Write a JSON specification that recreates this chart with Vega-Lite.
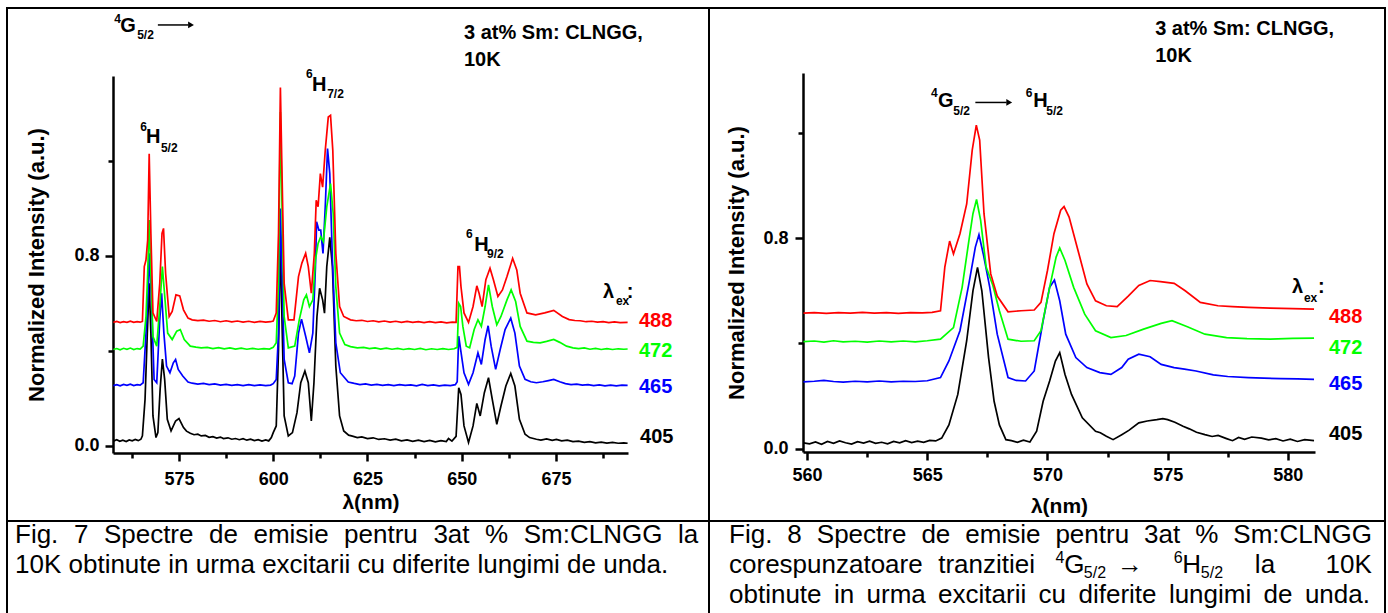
{
  "$schema": "https://vega.github.io/schema/vega-lite/v6.json",
  "padding": {"left": 6, "top": 7, "right": 0, "bottom": 0},
  "background": "white",
  "config": {
    "view": {"stroke": "#000000", "strokeWidth": 2},
    "concat": {"spacing": 0},
    "axis": {
      "grid": false,
      "domainColor": "#000000",
      "domainWidth": 2.5,
      "tickColor": "#000000",
      "tickWidth": 2.5,
      "labelColor": "#000000",
      "labelFont": "Liberation Sans",
      "labelFontSize": 18,
      "labelFontWeight": "bold",
      "labelFlush": false,
      "labelOverlap": false,
      "titleFont": "Liberation Sans",
      "titleFontSize": 21,
      "titleFontWeight": "bold",
      "titleColor": "#000000"
    },
    "text": {"font": "Liberation Sans"}
  },
  "datasets": {
    "s7": [
      {"ex":"405","nm":557.6,"I":0.020},{"ex":"405","nm":558.5,"I":0.026},{"ex":"405","nm":559.3,"I":0.019},{"ex":"405","nm":560.1,"I":0.024},{"ex":"405","nm":561.0,"I":0.018},{"ex":"405","nm":561.8,"I":0.025},{"ex":"405","nm":562.6,"I":0.021},{"ex":"405","nm":563.4,"I":0.027},{"ex":"405","nm":564.2,"I":0.022},{"ex":"405","nm":564.9,"I":0.028},{"ex":"405","nm":565.3,"I":0.042},{"ex":"405","nm":566.0,"I":0.196},{"ex":"405","nm":566.6,"I":0.475},{"ex":"405","nm":567.1,"I":0.685},{"ex":"405","nm":567.55,"I":0.475},{"ex":"405","nm":568.1,"I":0.126},{"ex":"405","nm":568.9,"I":0.035},{"ex":"405","nm":569.4,"I":0.056},{"ex":"405","nm":570.0,"I":0.238},{"ex":"405","nm":570.6,"I":0.366},{"ex":"405","nm":571.2,"I":0.28},{"ex":"405","nm":571.9,"I":0.112},{"ex":"405","nm":572.9,"I":0.063},{"ex":"405","nm":574.1,"I":0.105},{"ex":"405","nm":575.0,"I":0.115},{"ex":"405","nm":576.2,"I":0.077},{"ex":"405","nm":577.0,"I":0.062},{"ex":"405","nm":578.0,"I":0.053},{"ex":"405","nm":579.0,"I":0.047},{"ex":"405","nm":580.0,"I":0.049},{"ex":"405","nm":580.9,"I":0.042},{"ex":"405","nm":582.0,"I":0.044},{"ex":"405","nm":583.0,"I":0.036},{"ex":"405","nm":584.0,"I":0.039},{"ex":"405","nm":585.0,"I":0.033},{"ex":"405","nm":586.0,"I":0.037},{"ex":"405","nm":586.8,"I":0.031},{"ex":"405","nm":588.0,"I":0.034},{"ex":"405","nm":589.0,"I":0.028},{"ex":"405","nm":590.0,"I":0.031},{"ex":"405","nm":591.0,"I":0.026},{"ex":"405","nm":592.0,"I":0.030},{"ex":"405","nm":593.0,"I":0.024},{"ex":"405","nm":594.0,"I":0.028},{"ex":"405","nm":595.0,"I":0.022},{"ex":"405","nm":596.0,"I":0.026},{"ex":"405","nm":597.0,"I":0.020},{"ex":"405","nm":598.0,"I":0.025},{"ex":"405","nm":598.8,"I":0.021},{"ex":"405","nm":599.5,"I":0.035},{"ex":"405","nm":600.0,"I":0.056},{"ex":"405","nm":600.8,"I":0.084},{"ex":"405","nm":601.4,"I":0.406},{"ex":"405","nm":601.9,"I":0.88},{"ex":"405","nm":602.3,"I":0.545},{"ex":"405","nm":602.9,"I":0.126},{"ex":"405","nm":604.0,"I":0.042},{"ex":"405","nm":605.1,"I":0.056},{"ex":"405","nm":606.3,"I":0.14},{"ex":"405","nm":607.3,"I":0.266},{"ex":"405","nm":608.4,"I":0.315},{"ex":"405","nm":609.3,"I":0.266},{"ex":"405","nm":610.1,"I":0.105},{"ex":"405","nm":610.8,"I":0.266},{"ex":"405","nm":611.6,"I":0.545},{"ex":"405","nm":612.3,"I":0.664},{"ex":"405","nm":613.1,"I":0.615},{"ex":"405","nm":613.6,"I":0.559},{"ex":"405","nm":614.2,"I":0.755},{"ex":"405","nm":615.0,"I":0.878},{"ex":"405","nm":615.7,"I":0.755},{"ex":"405","nm":616.6,"I":0.336},{"ex":"405","nm":617.6,"I":0.126},{"ex":"405","nm":618.7,"I":0.063},{"ex":"405","nm":620.0,"I":0.045},{"ex":"405","nm":621.0,"I":0.041},{"ex":"405","nm":622.3,"I":0.035},{"ex":"405","nm":623.5,"I":0.038},{"ex":"405","nm":625.0,"I":0.031},{"ex":"405","nm":626.5,"I":0.034},{"ex":"405","nm":628.0,"I":0.027},{"ex":"405","nm":629.5,"I":0.030},{"ex":"405","nm":631.0,"I":0.024},{"ex":"405","nm":632.5,"I":0.028},{"ex":"405","nm":634.0,"I":0.021},{"ex":"405","nm":635.5,"I":0.025},{"ex":"405","nm":637.0,"I":0.019},{"ex":"405","nm":638.5,"I":0.024},{"ex":"405","nm":640.0,"I":0.018},{"ex":"405","nm":641.5,"I":0.023},{"ex":"405","nm":643.0,"I":0.017},{"ex":"405","nm":644.5,"I":0.022},{"ex":"405","nm":645.9,"I":0.018},{"ex":"405","nm":646.5,"I":0.031},{"ex":"405","nm":647.4,"I":0.020},{"ex":"405","nm":648.5,"I":0.04},{"ex":"405","nm":649.2,"I":0.245},{"ex":"405","nm":649.8,"I":0.217},{"ex":"405","nm":650.6,"I":0.084},{"ex":"405","nm":651.8,"I":0.014},{"ex":"405","nm":653.0,"I":0.084},{"ex":"405","nm":654.0,"I":0.179},{"ex":"405","nm":654.9,"I":0.126},{"ex":"405","nm":656.0,"I":0.224},{"ex":"405","nm":657.1,"I":0.287},{"ex":"405","nm":658.1,"I":0.196},{"ex":"405","nm":659.3,"I":0.091},{"ex":"405","nm":660.4,"I":0.168},{"ex":"405","nm":661.7,"I":0.252},{"ex":"405","nm":663.0,"I":0.305},{"ex":"405","nm":664.1,"I":0.252},{"ex":"405","nm":665.3,"I":0.112},{"ex":"405","nm":666.8,"I":0.049},{"ex":"405","nm":668.0,"I":0.035},{"ex":"405","nm":669.8,"I":0.028},{"ex":"405","nm":671.0,"I":0.024},{"ex":"405","nm":672.5,"I":0.029},{"ex":"405","nm":674.0,"I":0.023},{"ex":"405","nm":675.1,"I":0.027},{"ex":"405","nm":676.5,"I":0.021},{"ex":"405","nm":678.0,"I":0.024},{"ex":"405","nm":679.5,"I":0.018},{"ex":"405","nm":681.0,"I":0.020},{"ex":"405","nm":682.5,"I":0.015},{"ex":"405","nm":684.0,"I":0.018},{"ex":"405","nm":685.5,"I":0.013},{"ex":"405","nm":687.0,"I":0.016},{"ex":"405","nm":688.5,"I":0.012},{"ex":"405","nm":690.0,"I":0.015},{"ex":"405","nm":691.5,"I":0.011},{"ex":"405","nm":693.0,"I":0.013},{"ex":"405","nm":694.0,"I":0.011},

      {"ex":"465","nm":557.6,"I":0.254},{"ex":"465","nm":558.5,"I":0.258},{"ex":"465","nm":559.4,"I":0.253},{"ex":"465","nm":560.3,"I":0.259},{"ex":"465","nm":561.2,"I":0.255},{"ex":"465","nm":562.1,"I":0.26},{"ex":"465","nm":563.0,"I":0.254},{"ex":"465","nm":563.9,"I":0.258},{"ex":"465","nm":564.7,"I":0.256},{"ex":"465","nm":565.5,"I":0.266},{"ex":"465","nm":566.25,"I":0.475},{"ex":"465","nm":566.8,"I":0.643},{"ex":"465","nm":567.1,"I":0.811},{"ex":"465","nm":567.7,"I":0.615},{"ex":"465","nm":568.4,"I":0.28},{"ex":"465","nm":569.1,"I":0.266},{"ex":"465","nm":569.9,"I":0.531},{"ex":"465","nm":570.4,"I":0.643},{"ex":"465","nm":571.0,"I":0.475},{"ex":"465","nm":571.7,"I":0.336},{"ex":"465","nm":572.6,"I":0.308},{"ex":"465","nm":573.5,"I":0.35},{"ex":"465","nm":574.1,"I":0.364},{"ex":"465","nm":574.8,"I":0.322},{"ex":"465","nm":576.0,"I":0.294},{"ex":"465","nm":577.4,"I":0.269},{"ex":"465","nm":578.5,"I":0.264},{"ex":"465","nm":580.0,"I":0.26},{"ex":"465","nm":581.5,"I":0.263},{"ex":"465","nm":583.0,"I":0.258},{"ex":"465","nm":584.5,"I":0.261},{"ex":"465","nm":586.0,"I":0.256},{"ex":"465","nm":587.5,"I":0.259},{"ex":"465","nm":589.0,"I":0.255},{"ex":"465","nm":590.5,"I":0.258},{"ex":"465","nm":592.0,"I":0.254},{"ex":"465","nm":593.5,"I":0.258},{"ex":"465","nm":595.0,"I":0.254},{"ex":"465","nm":596.5,"I":0.257},{"ex":"465","nm":598.0,"I":0.254},{"ex":"465","nm":599.3,"I":0.256},{"ex":"465","nm":600.0,"I":0.262},{"ex":"465","nm":600.8,"I":0.28},{"ex":"465","nm":601.4,"I":0.475},{"ex":"465","nm":601.9,"I":1.0},{"ex":"465","nm":602.3,"I":0.755},{"ex":"465","nm":602.9,"I":0.364},{"ex":"465","nm":604.0,"I":0.266},{"ex":"465","nm":605.0,"I":0.262},{"ex":"465","nm":605.7,"I":0.294},{"ex":"465","nm":606.7,"I":0.475},{"ex":"465","nm":607.5,"I":0.534},{"ex":"465","nm":608.6,"I":0.462},{"ex":"465","nm":609.6,"I":0.392},{"ex":"465","nm":610.5,"I":0.475},{"ex":"465","nm":611.2,"I":0.755},{"ex":"465","nm":611.5,"I":0.944},{"ex":"465","nm":612.1,"I":0.909},{"ex":"465","nm":612.6,"I":0.909},{"ex":"465","nm":613.2,"I":0.811},{"ex":"465","nm":613.8,"I":1.007},{"ex":"465","nm":614.4,"I":1.252},{"ex":"465","nm":615.0,"I":1.147},{"ex":"465","nm":615.7,"I":0.783},{"ex":"465","nm":616.6,"I":0.434},{"ex":"465","nm":617.8,"I":0.308},{"ex":"465","nm":619.9,"I":0.269},{"ex":"465","nm":621.5,"I":0.263},{"ex":"465","nm":623.0,"I":0.258},{"ex":"465","nm":624.5,"I":0.261},{"ex":"465","nm":626.0,"I":0.256},{"ex":"465","nm":627.5,"I":0.259},{"ex":"465","nm":629.0,"I":0.255},{"ex":"465","nm":630.5,"I":0.258},{"ex":"465","nm":632.0,"I":0.254},{"ex":"465","nm":633.5,"I":0.258},{"ex":"465","nm":635.0,"I":0.255},{"ex":"465","nm":636.5,"I":0.257},{"ex":"465","nm":638.0,"I":0.253},{"ex":"465","nm":639.5,"I":0.259},{"ex":"465","nm":641.0,"I":0.254},{"ex":"465","nm":642.5,"I":0.257},{"ex":"465","nm":644.0,"I":0.253},{"ex":"465","nm":645.5,"I":0.256},{"ex":"465","nm":647.0,"I":0.254},{"ex":"465","nm":648.3,"I":0.258},{"ex":"465","nm":648.8,"I":0.27},{"ex":"465","nm":649.2,"I":0.462},{"ex":"465","nm":649.7,"I":0.406},{"ex":"465","nm":650.6,"I":0.308},{"ex":"465","nm":651.8,"I":0.259},{"ex":"465","nm":653.0,"I":0.308},{"ex":"465","nm":654.3,"I":0.392},{"ex":"465","nm":655.2,"I":0.343},{"ex":"465","nm":656.2,"I":0.448},{"ex":"465","nm":657.0,"I":0.506},{"ex":"465","nm":657.8,"I":0.42},{"ex":"465","nm":659.0,"I":0.322},{"ex":"465","nm":660.2,"I":0.406},{"ex":"465","nm":661.5,"I":0.49},{"ex":"465","nm":663.0,"I":0.538},{"ex":"465","nm":664.1,"I":0.475},{"ex":"465","nm":665.3,"I":0.336},{"ex":"465","nm":666.8,"I":0.28},{"ex":"465","nm":668.3,"I":0.27},{"ex":"465","nm":669.8,"I":0.266},{"ex":"465","nm":671.5,"I":0.27},{"ex":"465","nm":673.0,"I":0.275},{"ex":"465","nm":674.4,"I":0.28},{"ex":"465","nm":676.0,"I":0.27},{"ex":"465","nm":677.5,"I":0.262},{"ex":"465","nm":679.0,"I":0.258},{"ex":"465","nm":680.5,"I":0.26},{"ex":"465","nm":682.0,"I":0.256},{"ex":"465","nm":683.5,"I":0.258},{"ex":"465","nm":685.0,"I":0.254},{"ex":"465","nm":686.5,"I":0.257},{"ex":"465","nm":688.0,"I":0.253},{"ex":"465","nm":689.5,"I":0.256},{"ex":"465","nm":691.0,"I":0.253},{"ex":"465","nm":692.5,"I":0.256},{"ex":"465","nm":694.0,"I":0.255},

      {"ex":"472","nm":557.6,"I":0.406},{"ex":"472","nm":558.5,"I":0.41},{"ex":"472","nm":559.4,"I":0.405},{"ex":"472","nm":560.3,"I":0.411},{"ex":"472","nm":561.2,"I":0.407},{"ex":"472","nm":562.1,"I":0.412},{"ex":"472","nm":563.0,"I":0.406},{"ex":"472","nm":563.9,"I":0.41},{"ex":"472","nm":564.7,"I":0.408},{"ex":"472","nm":565.5,"I":0.42},{"ex":"472","nm":566.25,"I":0.545},{"ex":"472","nm":566.7,"I":0.727},{"ex":"472","nm":567.1,"I":0.951},{"ex":"472","nm":567.55,"I":0.727},{"ex":"472","nm":568.1,"I":0.46},{"ex":"472","nm":569.1,"I":0.42},{"ex":"472","nm":569.9,"I":0.587},{"ex":"472","nm":570.6,"I":0.755},{"ex":"472","nm":571.3,"I":0.615},{"ex":"472","nm":572.0,"I":0.475},{"ex":"472","nm":573.2,"I":0.448},{"ex":"472","nm":574.4,"I":0.483},{"ex":"472","nm":575.35,"I":0.49},{"ex":"472","nm":576.4,"I":0.448},{"ex":"472","nm":578.0,"I":0.42},{"ex":"472","nm":579.5,"I":0.416},{"ex":"472","nm":580.9,"I":0.413},{"ex":"472","nm":582.5,"I":0.415},{"ex":"472","nm":584.0,"I":0.41},{"ex":"472","nm":585.5,"I":0.414},{"ex":"472","nm":587.0,"I":0.409},{"ex":"472","nm":588.5,"I":0.413},{"ex":"472","nm":590.0,"I":0.408},{"ex":"472","nm":591.5,"I":0.412},{"ex":"472","nm":593.0,"I":0.407},{"ex":"472","nm":594.5,"I":0.411},{"ex":"472","nm":596.0,"I":0.407},{"ex":"472","nm":597.5,"I":0.41},{"ex":"472","nm":599.0,"I":0.408},{"ex":"472","nm":600.0,"I":0.415},{"ex":"472","nm":600.8,"I":0.434},{"ex":"472","nm":601.4,"I":0.685},{"ex":"472","nm":601.9,"I":1.406},{"ex":"472","nm":602.3,"I":1.035},{"ex":"472","nm":602.9,"I":0.545},{"ex":"472","nm":604.0,"I":0.413},{"ex":"472","nm":605.7,"I":0.42},{"ex":"472","nm":606.9,"I":0.531},{"ex":"472","nm":608.1,"I":0.615},{"ex":"472","nm":608.8,"I":0.636},{"ex":"472","nm":609.6,"I":0.587},{"ex":"472","nm":610.5,"I":0.615},{"ex":"472","nm":611.2,"I":0.783},{"ex":"472","nm":611.9,"I":0.853},{"ex":"472","nm":612.6,"I":0.881},{"ex":"472","nm":613.3,"I":0.86},{"ex":"472","nm":614.2,"I":1.007},{"ex":"472","nm":615.2,"I":1.105},{"ex":"472","nm":615.9,"I":0.979},{"ex":"472","nm":616.6,"I":0.671},{"ex":"472","nm":617.6,"I":0.475},{"ex":"472","nm":619.0,"I":0.427},{"ex":"472","nm":620.5,"I":0.418},{"ex":"472","nm":622.3,"I":0.413},{"ex":"472","nm":624.0,"I":0.415},{"ex":"472","nm":625.5,"I":0.41},{"ex":"472","nm":627.0,"I":0.413},{"ex":"472","nm":628.5,"I":0.408},{"ex":"472","nm":630.0,"I":0.412},{"ex":"472","nm":631.5,"I":0.407},{"ex":"472","nm":633.0,"I":0.411},{"ex":"472","nm":634.5,"I":0.406},{"ex":"472","nm":636.0,"I":0.41},{"ex":"472","nm":637.5,"I":0.406},{"ex":"472","nm":639.0,"I":0.411},{"ex":"472","nm":640.5,"I":0.405},{"ex":"472","nm":642.0,"I":0.409},{"ex":"472","nm":643.5,"I":0.406},{"ex":"472","nm":645.0,"I":0.41},{"ex":"472","nm":646.5,"I":0.406},{"ex":"472","nm":648.0,"I":0.409},{"ex":"472","nm":648.8,"I":0.415},{"ex":"472","nm":649.2,"I":0.601},{"ex":"472","nm":649.7,"I":0.587},{"ex":"472","nm":650.3,"I":0.503},{"ex":"472","nm":651.2,"I":0.42},{"ex":"472","nm":652.1,"I":0.413},{"ex":"472","nm":653.3,"I":0.49},{"ex":"472","nm":654.3,"I":0.531},{"ex":"472","nm":655.2,"I":0.503},{"ex":"472","nm":656.2,"I":0.587},{"ex":"472","nm":657.1,"I":0.678},{"ex":"472","nm":658.1,"I":0.587},{"ex":"472","nm":659.3,"I":0.51},{"ex":"472","nm":660.4,"I":0.545},{"ex":"472","nm":662.0,"I":0.615},{"ex":"472","nm":663.1,"I":0.657},{"ex":"472","nm":664.3,"I":0.608},{"ex":"472","nm":665.5,"I":0.503},{"ex":"472","nm":667.3,"I":0.441},{"ex":"472","nm":669.0,"I":0.436},{"ex":"472","nm":670.8,"I":0.434},{"ex":"472","nm":672.5,"I":0.44},{"ex":"472","nm":674.4,"I":0.448},{"ex":"472","nm":676.0,"I":0.436},{"ex":"472","nm":677.8,"I":0.42},{"ex":"472","nm":679.5,"I":0.413},{"ex":"472","nm":681.0,"I":0.41},{"ex":"472","nm":682.5,"I":0.413},{"ex":"472","nm":684.0,"I":0.407},{"ex":"472","nm":685.5,"I":0.411},{"ex":"472","nm":687.0,"I":0.406},{"ex":"472","nm":688.5,"I":0.41},{"ex":"472","nm":690.0,"I":0.406},{"ex":"472","nm":691.5,"I":0.409},{"ex":"472","nm":693.0,"I":0.407},{"ex":"472","nm":694.0,"I":0.408},

      {"ex":"488","nm":557.6,"I":0.52},{"ex":"488","nm":558.5,"I":0.524},{"ex":"488","nm":559.4,"I":0.519},{"ex":"488","nm":560.3,"I":0.523},{"ex":"488","nm":561.2,"I":0.52},{"ex":"488","nm":562.1,"I":0.525},{"ex":"488","nm":563.0,"I":0.52},{"ex":"488","nm":563.9,"I":0.523},{"ex":"488","nm":564.7,"I":0.521},{"ex":"488","nm":565.3,"I":0.524},{"ex":"488","nm":565.8,"I":0.755},{"ex":"488","nm":566.25,"I":0.783},{"ex":"488","nm":566.7,"I":0.867},{"ex":"488","nm":567.1,"I":1.23},{"ex":"488","nm":567.55,"I":0.895},{"ex":"488","nm":568.1,"I":0.56},{"ex":"488","nm":569.1,"I":0.524},{"ex":"488","nm":569.9,"I":0.685},{"ex":"488","nm":570.5,"I":0.895},{"ex":"488","nm":570.9,"I":0.916},{"ex":"488","nm":571.45,"I":0.727},{"ex":"488","nm":572.4,"I":0.545},{"ex":"488","nm":573.2,"I":0.566},{"ex":"488","nm":574.2,"I":0.636},{"ex":"488","nm":575.2,"I":0.632},{"ex":"488","nm":576.2,"I":0.573},{"ex":"488","nm":577.4,"I":0.538},{"ex":"488","nm":578.5,"I":0.531},{"ex":"488","nm":580.0,"I":0.528},{"ex":"488","nm":581.5,"I":0.53},{"ex":"488","nm":583.0,"I":0.525},{"ex":"488","nm":584.5,"I":0.528},{"ex":"488","nm":586.0,"I":0.523},{"ex":"488","nm":587.5,"I":0.527},{"ex":"488","nm":589.0,"I":0.522},{"ex":"488","nm":590.5,"I":0.526},{"ex":"488","nm":592.0,"I":0.521},{"ex":"488","nm":593.5,"I":0.525},{"ex":"488","nm":595.0,"I":0.52},{"ex":"488","nm":596.5,"I":0.524},{"ex":"488","nm":598.0,"I":0.521},{"ex":"488","nm":599.3,"I":0.523},{"ex":"488","nm":600.0,"I":0.526},{"ex":"488","nm":600.8,"I":0.56},{"ex":"488","nm":601.4,"I":0.895},{"ex":"488","nm":601.9,"I":1.51},{"ex":"488","nm":602.3,"I":1.175},{"ex":"488","nm":602.9,"I":0.685},{"ex":"488","nm":604.0,"I":0.531},{"ex":"488","nm":605.5,"I":0.531},{"ex":"488","nm":606.7,"I":0.713},{"ex":"488","nm":607.6,"I":0.77},{"ex":"488","nm":608.6,"I":0.811},{"ex":"488","nm":609.3,"I":0.755},{"ex":"488","nm":610.1,"I":0.643},{"ex":"488","nm":610.9,"I":0.811},{"ex":"488","nm":611.4,"I":1.035},{"ex":"488","nm":611.9,"I":1.007},{"ex":"488","nm":612.5,"I":1.147},{"ex":"488","nm":613.1,"I":1.09},{"ex":"488","nm":613.8,"I":1.245},{"ex":"488","nm":614.6,"I":1.385},{"ex":"488","nm":615.2,"I":1.392},{"ex":"488","nm":615.8,"I":1.245},{"ex":"488","nm":616.6,"I":0.811},{"ex":"488","nm":617.6,"I":0.587},{"ex":"488","nm":618.7,"I":0.545},{"ex":"488","nm":620.5,"I":0.531},{"ex":"488","nm":622.0,"I":0.527},{"ex":"488","nm":623.5,"I":0.529},{"ex":"488","nm":625.0,"I":0.524},{"ex":"488","nm":626.5,"I":0.527},{"ex":"488","nm":628.0,"I":0.522},{"ex":"488","nm":629.5,"I":0.526},{"ex":"488","nm":631.0,"I":0.521},{"ex":"488","nm":632.5,"I":0.525},{"ex":"488","nm":634.0,"I":0.52},{"ex":"488","nm":635.5,"I":0.524},{"ex":"488","nm":637.0,"I":0.52},{"ex":"488","nm":638.5,"I":0.523},{"ex":"488","nm":640.0,"I":0.519},{"ex":"488","nm":641.5,"I":0.523},{"ex":"488","nm":643.0,"I":0.519},{"ex":"488","nm":644.5,"I":0.522},{"ex":"488","nm":646.0,"I":0.518},{"ex":"488","nm":647.5,"I":0.521},{"ex":"488","nm":648.5,"I":0.52},{"ex":"488","nm":649.0,"I":0.755},{"ex":"488","nm":649.4,"I":0.755},{"ex":"488","nm":649.8,"I":0.671},{"ex":"488","nm":650.6,"I":0.56},{"ex":"488","nm":651.8,"I":0.52},{"ex":"488","nm":653.0,"I":0.587},{"ex":"488","nm":654.0,"I":0.674},{"ex":"488","nm":654.6,"I":0.643},{"ex":"488","nm":655.4,"I":0.587},{"ex":"488","nm":656.4,"I":0.7},{"ex":"488","nm":657.5,"I":0.748},{"ex":"488","nm":658.4,"I":0.7},{"ex":"488","nm":659.6,"I":0.629},{"ex":"488","nm":660.8,"I":0.657},{"ex":"488","nm":662.0,"I":0.713},{"ex":"488","nm":663.5,"I":0.79},{"ex":"488","nm":664.6,"I":0.741},{"ex":"488","nm":665.5,"I":0.643},{"ex":"488","nm":667.3,"I":0.56},{"ex":"488","nm":669.6,"I":0.552},{"ex":"488","nm":672.0,"I":0.56},{"ex":"488","nm":674.4,"I":0.571},{"ex":"488","nm":676.7,"I":0.545},{"ex":"488","nm":678.5,"I":0.532},{"ex":"488","nm":680.0,"I":0.528},{"ex":"488","nm":681.4,"I":0.527},{"ex":"488","nm":683.0,"I":0.523},{"ex":"488","nm":684.5,"I":0.525},{"ex":"488","nm":686.0,"I":0.521},{"ex":"488","nm":687.5,"I":0.523},{"ex":"488","nm":689.0,"I":0.519},{"ex":"488","nm":690.5,"I":0.522},{"ex":"488","nm":692.0,"I":0.519},{"ex":"488","nm":694.0,"I":0.52}
    ],
    "s8": [
      {"ex":"405","nm":559.85,"I":0.022},{"ex":"405","nm":560.1,"I":0.018},{"ex":"405","nm":560.35,"I":0.025},{"ex":"405","nm":560.6,"I":0.016},{"ex":"405","nm":560.85,"I":0.027},{"ex":"405","nm":561.1,"I":0.02},{"ex":"405","nm":561.35,"I":0.029},{"ex":"405","nm":561.6,"I":0.022},{"ex":"405","nm":561.85,"I":0.017},{"ex":"405","nm":562.1,"I":0.026},{"ex":"405","nm":562.35,"I":0.021},{"ex":"405","nm":562.6,"I":0.028},{"ex":"405","nm":562.85,"I":0.02},{"ex":"405","nm":563.1,"I":0.024},{"ex":"405","nm":563.35,"I":0.018},{"ex":"405","nm":563.6,"I":0.027},{"ex":"405","nm":563.85,"I":0.022},{"ex":"405","nm":564.1,"I":0.03},{"ex":"405","nm":564.35,"I":0.023},{"ex":"405","nm":564.6,"I":0.028},{"ex":"405","nm":564.85,"I":0.024},{"ex":"405","nm":565.1,"I":0.031},{"ex":"405","nm":565.35,"I":0.029},{"ex":"405","nm":565.6,"I":0.04},{"ex":"405","nm":565.9,"I":0.09},{"ex":"405","nm":566.27,"I":0.206},{"ex":"405","nm":566.64,"I":0.41},{"ex":"405","nm":566.9,"I":0.6},{"ex":"405","nm":567.09,"I":0.689},{"ex":"405","nm":567.27,"I":0.6},{"ex":"405","nm":567.55,"I":0.346},{"ex":"405","nm":567.78,"I":0.18},{"ex":"405","nm":568.0,"I":0.09},{"ex":"405","nm":568.27,"I":0.034},{"ex":"405","nm":568.5,"I":0.03},{"ex":"405","nm":568.75,"I":0.024},{"ex":"405","nm":569.0,"I":0.032},{"ex":"405","nm":569.27,"I":0.025},{"ex":"405","nm":569.55,"I":0.066},{"ex":"405","nm":569.82,"I":0.18},{"ex":"405","nm":570.09,"I":0.257},{"ex":"405","nm":570.33,"I":0.333},{"ex":"405","nm":570.51,"I":0.365},{"ex":"405","nm":570.73,"I":0.282},{"ex":"405","nm":571.0,"I":0.206},{"ex":"405","nm":571.45,"I":0.117},{"ex":"405","nm":572.0,"I":0.066},{"ex":"405","nm":572.2,"I":0.06},{"ex":"405","nm":572.45,"I":0.047},{"ex":"405","nm":572.73,"I":0.034},{"ex":"405","nm":573.09,"I":0.053},{"ex":"405","nm":573.4,"I":0.07},{"ex":"405","nm":573.8,"I":0.098},{"ex":"405","nm":574.15,"I":0.105},{"ex":"405","nm":574.55,"I":0.11},{"ex":"405","nm":574.8,"I":0.114},{"ex":"405","nm":575.0,"I":0.11},{"ex":"405","nm":575.3,"I":0.1},{"ex":"405","nm":575.64,"I":0.085},{"ex":"405","nm":575.9,"I":0.075},{"ex":"405","nm":576.2,"I":0.062},{"ex":"405","nm":576.55,"I":0.053},{"ex":"405","nm":576.85,"I":0.046},{"ex":"405","nm":577.1,"I":0.05},{"ex":"405","nm":577.45,"I":0.038},{"ex":"405","nm":577.7,"I":0.03},{"ex":"405","nm":577.95,"I":0.042},{"ex":"405","nm":578.2,"I":0.035},{"ex":"405","nm":578.5,"I":0.044},{"ex":"405","nm":578.9,"I":0.04},{"ex":"405","nm":579.2,"I":0.033},{"ex":"405","nm":579.5,"I":0.038},{"ex":"405","nm":579.8,"I":0.029},{"ex":"405","nm":580.1,"I":0.036},{"ex":"405","nm":580.4,"I":0.027},{"ex":"405","nm":580.7,"I":0.034},{"ex":"405","nm":581.09,"I":0.03},

      {"ex":"465","nm":559.85,"I":0.254},{"ex":"465","nm":560.3,"I":0.256},{"ex":"465","nm":560.7,"I":0.259},{"ex":"465","nm":561.1,"I":0.255},{"ex":"465","nm":561.5,"I":0.253},{"ex":"465","nm":562.0,"I":0.256},{"ex":"465","nm":562.5,"I":0.254},{"ex":"465","nm":563.0,"I":0.257},{"ex":"465","nm":563.5,"I":0.254},{"ex":"465","nm":564.0,"I":0.256},{"ex":"465","nm":564.5,"I":0.255},{"ex":"465","nm":565.0,"I":0.258},{"ex":"465","nm":565.55,"I":0.27},{"ex":"465","nm":565.9,"I":0.333},{"ex":"465","nm":566.36,"I":0.448},{"ex":"465","nm":566.73,"I":0.626},{"ex":"465","nm":567.0,"I":0.766},{"ex":"465","nm":567.15,"I":0.813},{"ex":"465","nm":567.33,"I":0.74},{"ex":"465","nm":567.6,"I":0.613},{"ex":"465","nm":567.91,"I":0.435},{"ex":"465","nm":568.36,"I":0.27},{"ex":"465","nm":568.7,"I":0.259},{"ex":"465","nm":569.09,"I":0.257},{"ex":"465","nm":569.45,"I":0.295},{"ex":"465","nm":569.82,"I":0.486},{"ex":"465","nm":570.09,"I":0.613},{"ex":"465","nm":570.29,"I":0.641},{"ex":"465","nm":570.51,"I":0.562},{"ex":"465","nm":570.76,"I":0.435},{"ex":"465","nm":571.18,"I":0.346},{"ex":"465","nm":571.64,"I":0.308},{"ex":"465","nm":572.18,"I":0.289},{"ex":"465","nm":572.64,"I":0.282},{"ex":"465","nm":573.09,"I":0.308},{"ex":"465","nm":573.36,"I":0.34},{"ex":"465","nm":573.8,"I":0.359},{"ex":"465","nm":574.27,"I":0.349},{"ex":"465","nm":574.73,"I":0.32},{"ex":"465","nm":575.27,"I":0.308},{"ex":"465","nm":575.7,"I":0.302},{"ex":"465","nm":576.18,"I":0.295},{"ex":"465","nm":576.9,"I":0.28},{"ex":"465","nm":577.5,"I":0.274},{"ex":"465","nm":578.36,"I":0.27},{"ex":"465","nm":579.0,"I":0.268},{"ex":"465","nm":579.7,"I":0.266},{"ex":"465","nm":580.4,"I":0.265},{"ex":"465","nm":581.09,"I":0.263},

      {"ex":"472","nm":559.85,"I":0.407},{"ex":"472","nm":560.3,"I":0.409},{"ex":"472","nm":560.7,"I":0.405},{"ex":"472","nm":561.1,"I":0.41},{"ex":"472","nm":561.5,"I":0.406},{"ex":"472","nm":562.0,"I":0.408},{"ex":"472","nm":562.5,"I":0.405},{"ex":"472","nm":563.0,"I":0.409},{"ex":"472","nm":563.5,"I":0.406},{"ex":"472","nm":564.0,"I":0.409},{"ex":"472","nm":564.5,"I":0.406},{"ex":"472","nm":565.0,"I":0.41},{"ex":"472","nm":565.55,"I":0.416},{"ex":"472","nm":566.09,"I":0.46},{"ex":"472","nm":566.45,"I":0.613},{"ex":"472","nm":566.73,"I":0.79},{"ex":"472","nm":566.9,"I":0.893},{"ex":"472","nm":567.05,"I":0.947},{"ex":"472","nm":567.22,"I":0.868},{"ex":"472","nm":567.45,"I":0.69},{"ex":"472","nm":567.73,"I":0.62},{"ex":"472","nm":568.0,"I":0.524},{"ex":"472","nm":568.36,"I":0.416},{"ex":"472","nm":568.9,"I":0.408},{"ex":"472","nm":569.45,"I":0.41},{"ex":"472","nm":569.73,"I":0.448},{"ex":"472","nm":570.09,"I":0.613},{"ex":"472","nm":570.36,"I":0.728},{"ex":"472","nm":570.51,"I":0.763},{"ex":"472","nm":570.73,"I":0.715},{"ex":"472","nm":571.09,"I":0.613},{"ex":"472","nm":571.55,"I":0.511},{"ex":"472","nm":572.0,"I":0.448},{"ex":"472","nm":572.64,"I":0.422},{"ex":"472","nm":573.27,"I":0.43},{"ex":"472","nm":574.0,"I":0.454},{"ex":"472","nm":574.73,"I":0.476},{"ex":"472","nm":575.18,"I":0.486},{"ex":"472","nm":575.82,"I":0.463},{"ex":"472","nm":576.55,"I":0.435},{"ex":"472","nm":577.45,"I":0.422},{"ex":"472","nm":578.3,"I":0.418},{"ex":"472","nm":579.27,"I":0.416},{"ex":"472","nm":580.2,"I":0.419},{"ex":"472","nm":581.09,"I":0.42},

      {"ex":"488","nm":559.85,"I":0.515},{"ex":"488","nm":560.3,"I":0.517},{"ex":"488","nm":560.8,"I":0.514},{"ex":"488","nm":561.3,"I":0.517},{"ex":"488","nm":561.8,"I":0.515},{"ex":"488","nm":562.3,"I":0.518},{"ex":"488","nm":562.8,"I":0.515},{"ex":"488","nm":563.3,"I":0.517},{"ex":"488","nm":563.8,"I":0.514},{"ex":"488","nm":564.3,"I":0.517},{"ex":"488","nm":564.8,"I":0.516},{"ex":"488","nm":565.2,"I":0.518},{"ex":"488","nm":565.55,"I":0.524},{"ex":"488","nm":565.73,"I":0.69},{"ex":"488","nm":565.93,"I":0.789},{"ex":"488","nm":566.09,"I":0.74},{"ex":"488","nm":566.36,"I":0.817},{"ex":"488","nm":566.64,"I":0.93},{"ex":"488","nm":566.87,"I":1.135},{"ex":"488","nm":567.04,"I":1.23},{"ex":"488","nm":567.18,"I":1.173},{"ex":"488","nm":567.36,"I":0.893},{"ex":"488","nm":567.64,"I":0.664},{"ex":"488","nm":567.91,"I":0.58},{"ex":"488","nm":568.36,"I":0.52},{"ex":"488","nm":568.9,"I":0.524},{"ex":"488","nm":569.45,"I":0.527},{"ex":"488","nm":569.73,"I":0.556},{"ex":"488","nm":570.0,"I":0.677},{"ex":"488","nm":570.27,"I":0.817},{"ex":"488","nm":570.55,"I":0.906},{"ex":"488","nm":570.69,"I":0.92},{"ex":"488","nm":570.9,"I":0.88},{"ex":"488","nm":571.31,"I":0.74},{"ex":"488","nm":571.64,"I":0.626},{"ex":"488","nm":572.0,"I":0.562},{"ex":"488","nm":572.45,"I":0.543},{"ex":"488","nm":572.9,"I":0.54},{"ex":"488","nm":573.36,"I":0.58},{"ex":"488","nm":573.8,"I":0.62},{"ex":"488","nm":574.27,"I":0.639},{"ex":"488","nm":574.7,"I":0.635},{"ex":"488","nm":575.27,"I":0.628},{"ex":"488","nm":575.73,"I":0.6},{"ex":"488","nm":576.36,"I":0.556},{"ex":"488","nm":577.09,"I":0.543},{"ex":"488","nm":577.7,"I":0.54},{"ex":"488","nm":578.36,"I":0.537},{"ex":"488","nm":579.27,"I":0.534},{"ex":"488","nm":580.2,"I":0.532},{"ex":"488","nm":581.09,"I":0.53}
    ],
    "t7": [
      {"nm":650.6,"I":1.714,"text":"3 at% Sm: CLNGG,"},
      {"nm":650.6,"I":1.6,"text":"10K"},
      {"nm":559.4,"I":1.743,"text":"G"},
      {"nm":566.25,"I":1.276,"text":"H"},
      {"nm":610.3,"I":1.495,"text":"H"},
      {"nm":653.3,"I":0.821,"text":"H"},
      {"nm":687.5,"I":0.623,"text":"λ"},
      {"nm":693.8,"I":0.623,"text":":"}
    ],
    "sc7": [
      {"nm":557.8,"I":1.781,"text":"4"},
      {"nm":563.9,"I":1.714,"text":"5/2"},
      {"nm":564.7,"I":1.326,"text":"6"},
      {"nm":570.2,"I":1.238,"text":"5/2"},
      {"nm":608.7,"I":1.55,"text":"6"},
      {"nm":614.3,"I":1.465,"text":"7/2"},
      {"nm":651.1,"I":0.876,"text":"6"},
      {"nm":656.7,"I":0.791,"text":"9/2"},
      {"nm":690.9,"I":0.593,"text":"ex"}
    ],
    "lab7": [
      {"ex":"488","nm":697.0,"I":0.501},
      {"ex":"472","nm":697.0,"I":0.374},
      {"ex":"465","nm":697.0,"I":0.223},
      {"ex":"405","nm":697.3,"I":0.012}
    ],
    "ar7": [{"nm":569.4,"nm2":577.5,"I":1.773}],
    "ah7": [{"nm":578.2,"I":1.773}],
    "t8": [
      {"nm":574.48,"I":1.571,"text":"3 at% Sm: CLNGG,"},
      {"nm":574.48,"I":1.469,"text":"10K"},
      {"nm":565.45,"I":1.298,"text":"G"},
      {"nm":569.41,"I":1.298,"text":"H"},
      {"nm":580.17,"I":0.59,"text":"λ"},
      {"nm":581.26,"I":0.59,"text":":"}
    ],
    "sc8": [
      {"nm":565.16,"I":1.335,"text":"4"},
      {"nm":566.08,"I":1.267,"text":"5/2"},
      {"nm":569.1,"I":1.335,"text":"6"},
      {"nm":569.95,"I":1.267,"text":"5/2"},
      {"nm":580.67,"I":0.556,"text":"ex"}
    ],
    "lab8": [
      {"ex":"488","nm":581.71,"I":0.476},
      {"ex":"472","nm":581.71,"I":0.358},
      {"ex":"465","nm":581.71,"I":0.222},
      {"ex":"405","nm":581.71,"I":0.032}
    ],
    "ar8": [{"nm":567.0,"nm2":568.3,"I":1.316}],
    "ah8": [{"nm":568.41,"I":1.316}],
    "c7": [
      {"line":1,"pos":0.0114,"text":"Fig."},
      {"line":1,"pos":0.0953,"text":"7"},
      {"line":1,"pos":0.138,"text":"Spectre"},
      {"line":1,"pos":0.2877,"text":"de"},
      {"line":1,"pos":0.3511,"text":"emisie"},
      {"line":1,"pos":0.4802,"text":"pentru"},
      {"line":1,"pos":0.6074,"text":"3at"},
      {"line":1,"pos":0.681,"text":"%"},
      {"line":1,"pos":0.736,"text":"Sm:CLNGG"},
      {"line":1,"pos":0.9557,"text":"la"},
      {"line":2,"pos":0.0114,"text":"10K obtinute in urma excitarii cu diferite lungimi de unda."}
    ],
    "c8": [
      {"line":1,"pos":0.0296,"text":"Fig."},
      {"line":1,"pos":0.1158,"text":"8"},
      {"line":1,"pos":0.1595,"text":"Spectre"},
      {"line":1,"pos":0.3142,"text":"de"},
      {"line":1,"pos":0.3791,"text":"emisie"},
      {"line":1,"pos":0.5124,"text":"pentru"},
      {"line":1,"pos":0.6436,"text":"3at"},
      {"line":1,"pos":0.7192,"text":"%"},
      {"line":1,"pos":0.7756,"text":"Sm:CLNGG"},
      {"line":2,"pos":0.0296,"text":"corespunzatoare"},
      {"line":2,"pos":0.339,"text":"tranzitiei"},
      {"line":2,"pos":0.5255,"text":"G"},
      {"line":2,"pos":0.6035,"text":"→"},
      {"line":2,"pos":0.7,"text":"H"},
      {"line":2,"pos":0.8075,"text":"la"},
      {"line":2,"pos":0.912,"text":"10K"},
      {"line":3,"pos":0.0296,"text":"obtinute"},
      {"line":3,"pos":0.1848,"text":"in"},
      {"line":3,"pos":0.233,"text":"urma"},
      {"line":3,"pos":0.3389,"text":"excitarii"},
      {"line":3,"pos":0.4876,"text":"cu"},
      {"line":3,"pos":0.5466,"text":"diferite"},
      {"line":3,"pos":0.6803,"text":"lungimi"},
      {"line":3,"pos":0.8204,"text":"de"},
      {"line":3,"pos":0.8815,"text":"unda."}
    ],
    "cs8": [
      {"line":1.667,"pos":0.5125,"text":"4"},
      {"line":2.167,"pos":0.5545,"text":"5/2"},
      {"line":1.667,"pos":0.6875,"text":"6"},
      {"line":2.167,"pos":0.7275,"text":"5/2"}
    ]
  },
  "columns": 2,
  "spacing": 0,
  "bounds": "flush",
  "align": "each",
  "concat": [
    {
      "width": 702,
      "height": 513,
      "encoding": {
        "x": {
          "field": "nm", "type": "quantitative",
          "scale": {"domain": [557.5, 694.1], "range": [106, 621], "nice": false, "zero": false},
          "axis": {
            "title": "λ(nm)",
            "values": [562.5, 575, 587.5, 600, 612.5, 625, 637.5, 650, 662.5, 675, 687.5],
            "labelExpr": "datum.value % 25 == 0 ? datum.label : ''",
            "tickSize": {"condition": {"test": "datum.value % 25 == 0", "value": 8}, "value": 5},
            "offset": -68,
            "labelPadding": 9,
            "titlePadding": 3
          }
        },
        "y": {
          "field": "I", "type": "quantitative",
          "scale": {"domain": [-0.03, 1.558], "range": [445, 68], "nice": false, "zero": false},
          "axis": {
            "title": "Normalized Intensity (a.u.)",
            "titleFontSize": 22,
            "values": [0, 0.4, 0.8, 1.2],
            "labelExpr": "datum.value == 0 ? '0.0' : (datum.value == 0.8 ? '0.8' : '')",
            "tickSize": {"condition": {"test": "datum.value == 0 || datum.value == 0.8", "value": 8}, "value": 5},
            "offset": -106,
            "labelPadding": 6,
            "titlePadding": 25
          }
        }
      },
      "layer": [
        {
          "data": {"name": "s7"},
          "mark": {"type": "line", "strokeWidth": 1.7},
          "encoding": {
            "color": {"field": "ex", "type": "nominal", "scale": {"domain": ["405", "465", "472", "488"], "range": ["#000000", "#0000ff", "#00ff00", "#ff0000"]}, "legend": null}
          }
        },
        {
          "data": {"name": "ar7"},
          "mark": {"type": "rule", "strokeWidth": 1.5, "color": "#000000"},
          "encoding": {"x2": {"field": "nm2"}}
        },
        {
          "data": {"name": "ah7"},
          "mark": {"type": "point", "shape": "triangle-right", "filled": true, "size": 45, "color": "#000000", "opacity": 1},
          "encoding": {}
        },
        {
          "data": {"name": "t7"},
          "mark": {"type": "text", "align": "left", "baseline": "alphabetic", "fontSize": 20, "fontWeight": "bold", "color": "#000000"},
          "encoding": {"text": {"field": "text"}}
        },
        {
          "data": {"name": "sc7"},
          "mark": {"type": "text", "align": "left", "baseline": "alphabetic", "fontSize": 12, "fontWeight": "bold", "color": "#000000"},
          "encoding": {"text": {"field": "text"}}
        },
        {
          "data": {"name": "lab7"},
          "mark": {"type": "text", "align": "left", "baseline": "alphabetic", "fontSize": 20, "fontWeight": "bold"},
          "encoding": {
            "text": {"field": "ex"},
            "color": {"field": "ex", "type": "nominal", "scale": {"domain": ["405", "465", "472", "488"], "range": ["#000000", "#0000ff", "#00ff00", "#ff0000"]}, "legend": null}
          }
        }
      ]
    },
    {
      "width": 676,
      "height": 513,
      "encoding": {
        "x": {
          "field": "nm", "type": "quantitative",
          "scale": {"domain": [559.83, 581.13], "range": [94, 606], "nice": false, "zero": false},
          "axis": {
            "title": "λ(nm)",
            "values": [560, 562.5, 565, 567.5, 570, 572.5, 575, 577.5, 580],
            "labelExpr": "datum.value % 5 == 0 ? datum.label : ''",
            "tickSize": {"condition": {"test": "datum.value % 5 == 0", "value": 8}, "value": 5},
            "offset": -69,
            "labelPadding": 6,
            "titlePadding": 11
          }
        },
        "y": {
          "field": "I", "type": "quantitative",
          "scale": {"domain": [-0.013, 1.428], "range": [444, 65], "nice": false, "zero": false},
          "axis": {
            "title": "Normalized Intensity (a.u.)",
            "titleFontSize": 22,
            "values": [0, 0.4, 0.8, 1.2],
            "labelExpr": "datum.value == 0 ? '0.0' : (datum.value == 0.8 ? '0.8' : '')",
            "tickSize": {"condition": {"test": "datum.value == 0 || datum.value == 0.8", "value": 8}, "value": 5},
            "offset": -94,
            "labelPadding": 7,
            "titlePadding": 14
          }
        }
      },
      "layer": [
        {
          "data": {"name": "s8"},
          "mark": {"type": "line", "strokeWidth": 1.7},
          "encoding": {
            "color": {"field": "ex", "type": "nominal", "scale": {"domain": ["405", "465", "472", "488"], "range": ["#000000", "#0000ff", "#00ff00", "#ff0000"]}, "legend": null}
          }
        },
        {
          "data": {"name": "ar8"},
          "mark": {"type": "rule", "strokeWidth": 1.5, "color": "#000000"},
          "encoding": {"x2": {"field": "nm2"}}
        },
        {
          "data": {"name": "ah8"},
          "mark": {"type": "point", "shape": "triangle-right", "filled": true, "size": 45, "color": "#000000", "opacity": 1},
          "encoding": {}
        },
        {
          "data": {"name": "t8"},
          "mark": {"type": "text", "align": "left", "baseline": "alphabetic", "fontSize": 20, "fontWeight": "bold", "color": "#000000"},
          "encoding": {"text": {"field": "text"}}
        },
        {
          "data": {"name": "sc8"},
          "mark": {"type": "text", "align": "left", "baseline": "alphabetic", "fontSize": 12, "fontWeight": "bold", "color": "#000000"},
          "encoding": {"text": {"field": "text"}}
        },
        {
          "data": {"name": "lab8"},
          "mark": {"type": "text", "align": "left", "baseline": "alphabetic", "fontSize": 20, "fontWeight": "bold"},
          "encoding": {
            "text": {"field": "ex"},
            "color": {"field": "ex", "type": "nominal", "scale": {"domain": ["405", "465", "472", "488"], "range": ["#000000", "#0000ff", "#00ff00", "#ff0000"]}, "legend": null}
          }
        }
      ]
    },
    {
      "width": 702,
      "height": 96,
      "data": {"name": "c7"},
      "mark": {"type": "text", "align": "left", "baseline": "alphabetic", "fontSize": 26, "color": "#000000"},
      "encoding": {
        "x": {"field": "pos", "type": "quantitative", "scale": {"domain": [0, 1], "nice": false, "zero": false}, "axis": null},
        "y": {"field": "line", "type": "quantitative", "scale": {"domain": [0.2667, 3.4667], "reverse": true, "nice": false, "zero": false}, "axis": null},
        "text": {"field": "text"}
      }
    },
    {
      "width": 676,
      "height": 96,
      "encoding": {
        "x": {"field": "pos", "type": "quantitative", "scale": {"domain": [0, 1], "nice": false, "zero": false}, "axis": null},
        "y": {"field": "line", "type": "quantitative", "scale": {"domain": [0.2667, 3.4667], "reverse": true, "nice": false, "zero": false}, "axis": null},
        "text": {"field": "text"}
      },
      "layer": [
        {
          "data": {"name": "c8"},
          "mark": {"type": "text", "align": "left", "baseline": "alphabetic", "fontSize": 26, "color": "#000000"}
        },
        {
          "data": {"name": "cs8"},
          "mark": {"type": "text", "align": "left", "baseline": "alphabetic", "fontSize": 16, "color": "#000000"}
        }
      ]
    }
  ]
}
